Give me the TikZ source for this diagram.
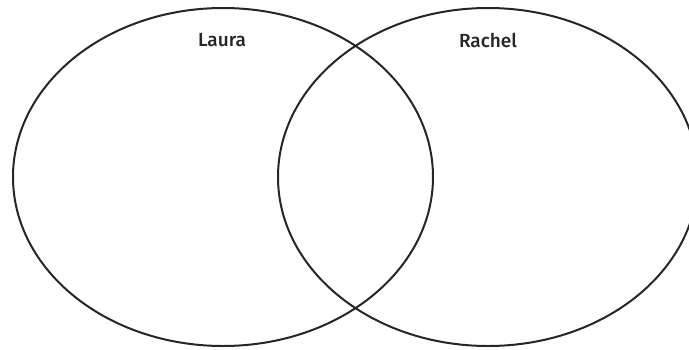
\documentclass[tikz,border=0pt]{standalone}
\usepackage{fontspec}
\setmainfont{Open Sans}
\newfontfamily\lblfont{Fira Sans Medium}
\begin{document}
\begin{tikzpicture}[x=1pt,y=-1pt,
  setline/.style={draw=black!85, line width=2pt},
  setlabel/.style={font=\lblfont\fontsize{19}{21}\selectfont, text=black!85, inner sep=0pt}]
\useasboundingbox (0,0) rectangle (689,349);
\clip (0,0) rectangle (689,349);
\draw[setline] (223,177) ellipse [x radius=210, y radius=169];
\draw[setline] (488,177) ellipse [x radius=210, y radius=169];
\node[setlabel] (laura) at (222,40) {Laura};
\node[setlabel] (rachel) at (488,40) {Rachel};
\end{tikzpicture}
\end{document}
